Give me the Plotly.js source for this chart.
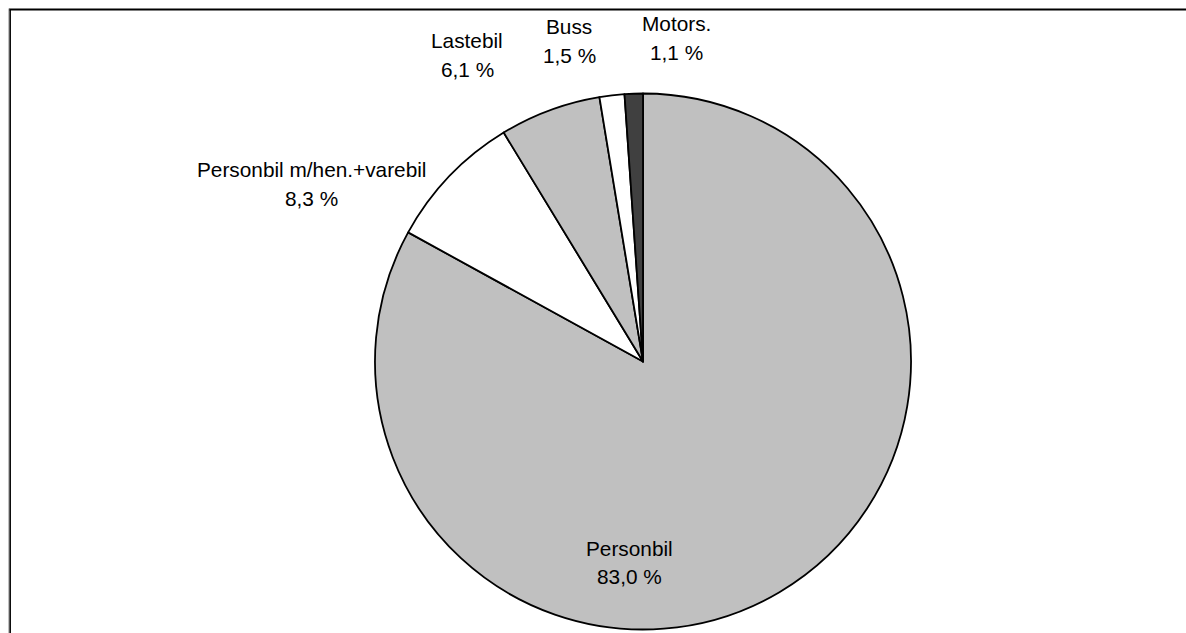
<!DOCTYPE html>
<html>
<head>
<meta charset="utf-8">
<script src="https://cdn.plot.ly/plotly-3.0.1.min.js"></script>
<style>html,body{margin:0;padding:0;background:#fff;}#chart{width:1186px;height:633px;}</style>
</head>
<body>
<div id="chart"></div>
<script>
// Data
var categories = ["Personbil", "Personbil m/hen.+varebil", "Lastebil", "Buss", "Motors."];
var shares = [83.0, 8.3, 6.1, 1.5, 1.1];
var sliceColors = ["#c0c0c0", "#ffffff", "#c0c0c0", "#ffffff", "#404040"];

var W = 1186, H = 633;
function px(x) { return x / W; }
function py(y) { return 1 - y / H; }
function pct(v) { return v.toFixed(1).replace('.', ',') + ' %'; }

// label placement (pixel centres of name line and value line)
var labelPos = [
  {x: 629, y1: 548, y2: 576},
  {x: 311, y1: 170, y2: 198},
  {x: 467, y1: 41, y2: 70},
  {x: 569, y1: 27, y2: 55},
  {x: 676, y1: 24, y2: 52}
];

var labelFont = {family: 'Liberation Sans, Arial, sans-serif', size: 20.8, color: '#000'};
var annotations = [];
categories.forEach(function (c, i) {
  var p = labelPos[i];
  annotations.push({x: px(p.x), y: py(p.y1), xref: 'paper', yref: 'paper', text: c,
    showarrow: false, xanchor: 'center', yanchor: 'middle', font: labelFont});
  annotations.push({x: px(p.x), y: py(p.y2), xref: 'paper', yref: 'paper', text: pct(shares[i]),
    showarrow: false, xanchor: 'center', yanchor: 'middle', font: labelFont});
});

var trace = {
  type: 'pie',
  labels: categories,
  values: shares,
  sort: false,
  direction: 'clockwise',
  rotation: 0,
  textinfo: 'none',
  hoverinfo: 'none',
  marker: {colors: sliceColors, line: {color: '#000', width: 1.8}},
  domain: {x: [px(375), px(911)], y: [py(630), py(93)]},
  showlegend: false
};

var layout = {
  width: W, height: H,
  margin: {l: 0, r: 0, t: 0, b: 0},
  paper_bgcolor: '#fff',
  plot_bgcolor: '#fff',
  showlegend: false,
  annotations: annotations,
  shapes: [
    {type: 'line', xref: 'paper', yref: 'paper', x0: px(9), x1: 1, y0: py(8.5), y1: py(8.5), line: {color: '#808080', width: 1}},
    {type: 'line', xref: 'paper', yref: 'paper', x0: px(9), x1: 1, y0: py(9.7), y1: py(9.7), line: {color: '#000', width: 1.5}},
    {type: 'line', xref: 'paper', yref: 'paper', x0: px(9), x1: px(9), y0: py(8.5), y1: 0, line: {color: '#808080', width: 1}},
    {type: 'line', xref: 'paper', yref: 'paper', x0: px(10.2), x1: px(10.2), y0: py(9.7), y1: 0, line: {color: '#000', width: 1.5}}
  ]
};

Plotly.newPlot('chart', [trace], layout, {displayModeBar: false, staticPlot: true});
</script>
</body>
</html>
